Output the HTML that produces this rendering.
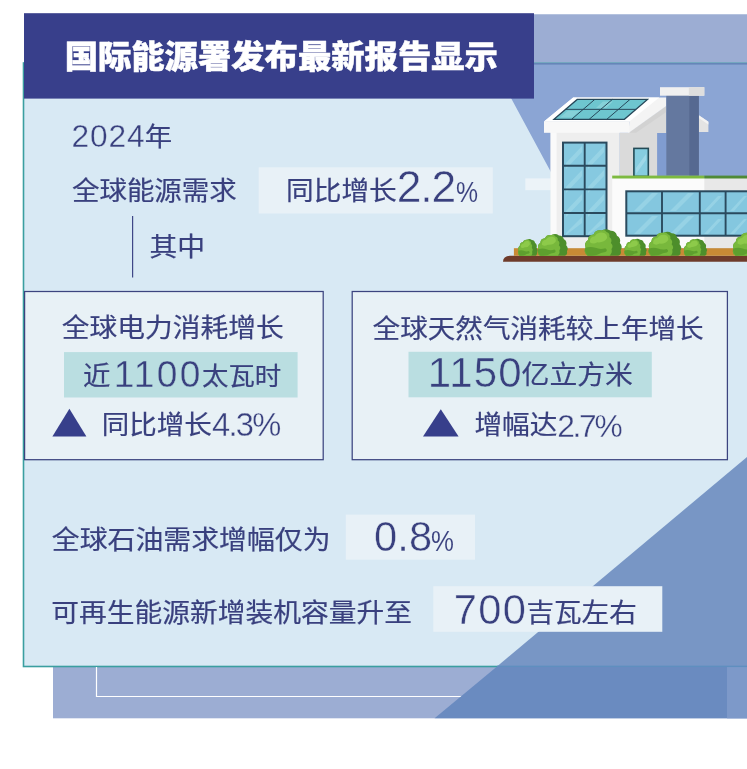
<!DOCTYPE html>
<html lang="zh-CN">
<head>
<meta charset="utf-8">
<title>国际能源署发布最新报告显示</title>
<style>
html,body{margin:0;padding:0;background:#fff;}
#root{position:relative;width:747px;height:769px;overflow:hidden;background:#fff;
  font-family:"Liberation Sans","Noto Sans CJK SC",sans-serif;color:#39407e;}
#bg{position:absolute;left:0;top:0;}
.t{position:absolute;white-space:nowrap;line-height:40px;height:40px;font-weight:400;margin:0;transform-origin:0 50%;}
#title{font-weight:900;color:#fff;-webkit-text-stroke:0.5px #fff;}
</style>
</head>
<body>
<div id="root">
<svg id="bg" width="747" height="769" viewBox="0 0 747 769">
  <rect x="53" y="14.5" width="694" height="703.8" fill="#9cadd3"/>
  <rect x="23.5" y="63" width="730" height="603.5" fill="#d8e9f4" stroke="#3a9fa0" stroke-width="1.6"/>
  <polygon points="480,63 747,63 747,252 594,252 511,98 480,98" fill="#8ba5d4"/>
  <rect x="480" y="14.5" width="267" height="48" fill="#9cadd3"/>
  <rect x="480" y="63" width="267" height="1.6" fill="#6586b8"/>
  <path d="M96.5 667 V696.5 H470" fill="none" stroke="#fff" stroke-width="1.2"/>
  <polygon points="434.6,718.3 497,666.5 747,666.5 747,718.3" fill="#6a8bc0"/>
  <rect x="727" y="667" width="20" height="51.3" fill="#7d99c9"/>
  <polygon points="497,666.5 747,457 747,666.5" fill="#7896c5"/>
  <rect x="497" y="665.7" width="250" height="1.4" fill="#5f8fbf"/>
  <rect x="24" y="13.2" width="510" height="85.4" fill="#383f8b"/>
  <rect x="132" y="216" width="1.2" height="61.5" fill="#3f4787"/>
  <rect x="258.7" y="167.3" width="234.1" height="46.2" fill="#e8f1f7"/>
  <rect x="24.6" y="291.5" width="298.6" height="168.2" fill="#e8f1f6" stroke="#3c447f" stroke-width="1.25"/>
  <rect x="64" y="352.1" width="233.6" height="45.4" fill="#badee1"/>
  <rect x="352.2" y="291.5" width="375.2" height="168.2" fill="#e8f1f6" stroke="#3c447f" stroke-width="1.25"/>
  <rect x="408.5" y="351.8" width="243.3" height="45.5" fill="#badee1"/>
  <rect x="345.8" y="514.6" width="129.2" height="45.1" fill="#e8f1f7"/>
  <rect x="433.3" y="586.2" width="229" height="45.6" fill="#e8f1f7"/>
  <polygon points="52.4,436.4 69.4,408.8 86.4,436.4" fill="#373f8b"/>
  <polygon points="423,436.4 440.8,409.2 458.6,436.4" fill="#373f8b"/>
  <g id="house">
    <!-- awning left -->
    <rect x="525.3" y="178.4" width="26" height="11.8" fill="#ecf3f8"/>
    <!-- far roof piece right of chimney -->
    <polygon points="698.8,115.2 708.4,121.8 708.4,132.1 698.8,132.1" fill="#e3e3e3"/>
    <polygon points="698.8,115.2 708.4,121.8 708.4,124.5 698.8,118" fill="#f3f3f3"/>
    <!-- blue gap -->
    <rect x="656.5" y="132.9" width="10" height="43" fill="#809cd0"/>
    <!-- gable wall -->
    <polygon points="619.5,132.8 628.5,132.8 666.3,106 666.3,132.9 657.1,132.9 657.1,176 619.5,176" fill="#dadada"/>
    <polygon points="628.5,132.8 666.3,106 666.3,112 636,132.8" fill="#d2d2d2"/>
    <!-- roof top surface -->
    <polygon points="544,121.4 573.2,97.5 666.3,97.5 666.3,106 628.5,132.9 629.4,121.4" fill="#f4f4f4"/>
    <polygon points="544,121.4 573.2,97.5 659.3,97.5 629.4,121.4" fill="#ffffff"/>
    <!-- solar panel -->
    <polygon points="554,119.3 577.2,99.4 647.5,99.4 624.4,119.3" fill="#6ec6cf" stroke="#27485a" stroke-width="1.3" stroke-linejoin="miter"/>
    <polygon points="560,117.6 568,110.8 580,110.8 572,117.6" fill="#9adbe0" opacity=".55"/>
    <polygon points="596,108 603,101.5 613,101.5 606,108" fill="#9adbe0" opacity=".55"/>
    <g stroke="#27485a" stroke-width="1" fill="none">
      <line x1="565.6" y1="109.35" x2="635.95" y2="109.35"/>
      <line x1="571.6" y1="119.3" x2="594.8" y2="99.4"/>
      <line x1="589.2" y1="119.3" x2="612.4" y2="99.4"/>
      <line x1="606.8" y1="119.3" x2="630" y2="99.4"/>
    </g>
    <!-- front wall -->
    <rect x="550.6" y="132" width="69" height="116.5" fill="#eeeeee"/>
    <rect x="550.6" y="132" width="6" height="116.5" fill="#fafafa"/>
    <!-- roof slab front -->
    <rect x="544" y="121.3" width="85.4" height="11.5" fill="#f8f8f8"/>
    <!-- tall window -->
    <rect x="563" y="142.6" width="43.5" height="93.6" fill="#86c9e0" stroke="#2a4a5e" stroke-width="2"/>
    <g fill="#a9deeb" opacity=".5">
      <polygon points="566,163 582,146 582,152 566,169"/>
      <polygon points="588,163 604,146 604,152 588,169"/>
      <polygon points="566,187 582,170 582,176 566,193"/>
      <polygon points="588,187 604,170 604,176 588,193"/>
      <polygon points="566,211 582,194 582,200 566,217"/>
      <polygon points="588,211 604,194 604,200 588,217"/>
      <polygon points="566,233 582,217 582,223 566,235"/>
      <polygon points="588,233 604,217 604,223 588,235"/>
    </g>
    <g stroke="#2a4a5e" stroke-width="1.9">
      <line x1="584.7" y1="142" x2="584.7" y2="237"/>
      <line x1="562.5" y1="165.8" x2="607" y2="165.8"/>
      <line x1="562.5" y1="189.4" x2="607" y2="189.4"/>
      <line x1="562.5" y1="213" x2="607" y2="213"/>
    </g>
    <!-- small window -->
    <rect x="633.9" y="148.4" width="14.4" height="28" fill="#86cde0" stroke="#234a56" stroke-width="1.6"/>
    <polygon points="636,168 646,154 646,160 636,174" fill="#b0e0ec" opacity=".6"/>
    <!-- chimney -->
    <rect x="666.3" y="95" width="32.5" height="80.6" fill="#64789f"/>
    <rect x="689.3" y="95" width="9.5" height="80.6" fill="#566991"/>
    <rect x="660" y="87.2" width="44.3" height="8.5" fill="#f0f0f0"/>
    <rect x="688.8" y="87.2" width="15.5" height="8.5" fill="#dedede"/>
    <!-- lower right block -->
    <rect x="612.2" y="178" width="135" height="70.5" fill="#fbfbfb"/>
    <rect x="704.3" y="178" width="43" height="70.5" fill="#e8e8e8"/>
    <!-- green strip -->
    <rect x="612.2" y="175.6" width="92.1" height="2.9" fill="#7dba40"/>
    <rect x="704.3" y="175.6" width="43" height="2.9" fill="#4e8a36"/>
    <!-- wide window -->
    <rect x="626.3" y="191.3" width="125" height="44.4" fill="#84c7df" stroke="#2a4a5e" stroke-width="2"/>
    <g fill="#a9deeb" opacity=".5">
      <polygon points="634,211 652,193 658,193 640,211"/>
      <polygon points="634,234 652,216 658,216 640,234"/>
      <polygon points="670,211 688,193 694,193 676,211"/>
      <polygon points="670,234 688,216 694,216 676,234"/>
      <polygon points="704,211 718,196 722,196 708,211"/>
      <polygon points="704,234 718,219 722,219 708,234"/>
      <polygon points="730,211 744,196 747,196 734,211"/>
      <polygon points="730,234 744,219 747,219 734,234"/>
    </g>
    <g stroke="#2a4a5e" stroke-width="1.9">
      <line x1="626" y1="213.3" x2="747" y2="213.3"/>
      <line x1="662" y1="191" x2="662" y2="236"/>
      <line x1="699.8" y1="191" x2="699.8" y2="236"/>
      <line x1="725.6" y1="191" x2="725.6" y2="236"/>
    </g>
    <!-- ground -->
    <path d="M503,261.8 Q503,256 510,255.7 H747 V261.8 Z" fill="#6e3b2a"/>
    <rect x="513.9" y="248.2" width="233.1" height="7.6" fill="#c88a35"/>
    <!-- bushes -->
    <g id="bushes">
      <g transform="translate(517.9,238.8) scale(0.65,0.77)">
<path d="M2.5,22 Q-1,19 1,15.5 Q-0.5,11 3,9 Q3,5 7.5,4.5 Q9,0.5 14,1.2 Q18,-1 21.5,1.5 Q25.5,1.5 26.5,5.5 Q30,7.5 28.8,11.5 Q31.5,14.5 29.5,17.5 Q30.5,21 27.5,22 Z" fill="#4d8e2b"/>
<path d="M2.5,22 Q-1,19 1,15.5 Q-0.5,11 3,9 Q3,5 7.5,4.5 Q9,0.5 14,1.2 Q16.5,0 18,2.5 Q21,3.5 20.3,6.5 Q23,8.5 21.5,11.5 Q24,14 22,16.5 Q23,19.5 20.5,22 Z" fill="#78b83c"/>
<path d="M4.5,11 Q4,6.5 8.5,6 Q10.5,2.5 15,3 Q18.5,3.5 18.5,7.5 Q16,11.5 10.5,11 Q7,13 4.5,11Z" fill="#8dca4a"/>
<path d="M0.8,15.5 Q5,14.2 9,15.5 Q13,17.2 17,15.8 Q19.5,17.5 17,19 Q13,19.5 11,21 Q9,22 3,22 Q-0.5,19 0.8,15.5Z" fill="#5e9f2e"/>
</g>
      <g transform="translate(537.4,233.9) scale(1.0,0.99)">
<path d="M2.5,22 Q-1,19 1,15.5 Q-0.5,11 3,9 Q3,5 7.5,4.5 Q9,0.5 14,1.2 Q18,-1 21.5,1.5 Q25.5,1.5 26.5,5.5 Q30,7.5 28.8,11.5 Q31.5,14.5 29.5,17.5 Q30.5,21 27.5,22 Z" fill="#4d8e2b"/>
<path d="M2.5,22 Q-1,19 1,15.5 Q-0.5,11 3,9 Q3,5 7.5,4.5 Q9,0.5 14,1.2 Q16.5,0 18,2.5 Q21,3.5 20.3,6.5 Q23,8.5 21.5,11.5 Q24,14 22,16.5 Q23,19.5 20.5,22 Z" fill="#78b83c"/>
<path d="M4.5,11 Q4,6.5 8.5,6 Q10.5,2.5 15,3 Q18.5,3.5 18.5,7.5 Q16,11.5 10.5,11 Q7,13 4.5,11Z" fill="#8dca4a"/>
<path d="M0.8,15.5 Q5,14.2 9,15.5 Q13,17.2 17,15.8 Q19.5,17.5 17,19 Q13,19.5 11,21 Q9,22 3,22 Q-0.5,19 0.8,15.5Z" fill="#5e9f2e"/>
</g>
      <g transform="translate(584.4,229) scale(1.23,1.215)">
<path d="M2.5,22 Q-1,19 1,15.5 Q-0.5,11 3,9 Q3,5 7.5,4.5 Q9,0.5 14,1.2 Q18,-1 21.5,1.5 Q25.5,1.5 26.5,5.5 Q30,7.5 28.8,11.5 Q31.5,14.5 29.5,17.5 Q30.5,21 27.5,22 Z" fill="#4d8e2b"/>
<path d="M2.5,22 Q-1,19 1,15.5 Q-0.5,11 3,9 Q3,5 7.5,4.5 Q9,0.5 14,1.2 Q16.5,0 18,2.5 Q21,3.5 20.3,6.5 Q23,8.5 21.5,11.5 Q24,14 22,16.5 Q23,19.5 20.5,22 Z" fill="#78b83c"/>
<path d="M4.5,11 Q4,6.5 8.5,6 Q10.5,2.5 15,3 Q18.5,3.5 18.5,7.5 Q16,11.5 10.5,11 Q7,13 4.5,11Z" fill="#8dca4a"/>
<path d="M0.8,15.5 Q5,14.2 9,15.5 Q13,17.2 17,15.8 Q19.5,17.5 17,19 Q13,19.5 11,21 Q9,22 3,22 Q-0.5,19 0.8,15.5Z" fill="#5e9f2e"/>
</g>
      <g transform="translate(624.2,238.5) scale(0.74,0.78)">
<path d="M2.5,22 Q-1,19 1,15.5 Q-0.5,11 3,9 Q3,5 7.5,4.5 Q9,0.5 14,1.2 Q18,-1 21.5,1.5 Q25.5,1.5 26.5,5.5 Q30,7.5 28.8,11.5 Q31.5,14.5 29.5,17.5 Q30.5,21 27.5,22 Z" fill="#4d8e2b"/>
<path d="M2.5,22 Q-1,19 1,15.5 Q-0.5,11 3,9 Q3,5 7.5,4.5 Q9,0.5 14,1.2 Q16.5,0 18,2.5 Q21,3.5 20.3,6.5 Q23,8.5 21.5,11.5 Q24,14 22,16.5 Q23,19.5 20.5,22 Z" fill="#78b83c"/>
<path d="M4.5,11 Q4,6.5 8.5,6 Q10.5,2.5 15,3 Q18.5,3.5 18.5,7.5 Q16,11.5 10.5,11 Q7,13 4.5,11Z" fill="#8dca4a"/>
<path d="M0.8,15.5 Q5,14.2 9,15.5 Q13,17.2 17,15.8 Q19.5,17.5 17,19 Q13,19.5 11,21 Q9,22 3,22 Q-0.5,19 0.8,15.5Z" fill="#5e9f2e"/>
</g>
      <g transform="translate(648.2,231.5) scale(1.09,1.1)">
<path d="M2.5,22 Q-1,19 1,15.5 Q-0.5,11 3,9 Q3,5 7.5,4.5 Q9,0.5 14,1.2 Q18,-1 21.5,1.5 Q25.5,1.5 26.5,5.5 Q30,7.5 28.8,11.5 Q31.5,14.5 29.5,17.5 Q30.5,21 27.5,22 Z" fill="#4d8e2b"/>
<path d="M2.5,22 Q-1,19 1,15.5 Q-0.5,11 3,9 Q3,5 7.5,4.5 Q9,0.5 14,1.2 Q16.5,0 18,2.5 Q21,3.5 20.3,6.5 Q23,8.5 21.5,11.5 Q24,14 22,16.5 Q23,19.5 20.5,22 Z" fill="#78b83c"/>
<path d="M4.5,11 Q4,6.5 8.5,6 Q10.5,2.5 15,3 Q18.5,3.5 18.5,7.5 Q16,11.5 10.5,11 Q7,13 4.5,11Z" fill="#8dca4a"/>
<path d="M0.8,15.5 Q5,14.2 9,15.5 Q13,17.2 17,15.8 Q19.5,17.5 17,19 Q13,19.5 11,21 Q9,22 3,22 Q-0.5,19 0.8,15.5Z" fill="#5e9f2e"/>
</g>
      <g transform="translate(683.7,238.5) scale(0.77,0.78)">
<path d="M2.5,22 Q-1,19 1,15.5 Q-0.5,11 3,9 Q3,5 7.5,4.5 Q9,0.5 14,1.2 Q18,-1 21.5,1.5 Q25.5,1.5 26.5,5.5 Q30,7.5 28.8,11.5 Q31.5,14.5 29.5,17.5 Q30.5,21 27.5,22 Z" fill="#4d8e2b"/>
<path d="M2.5,22 Q-1,19 1,15.5 Q-0.5,11 3,9 Q3,5 7.5,4.5 Q9,0.5 14,1.2 Q16.5,0 18,2.5 Q21,3.5 20.3,6.5 Q23,8.5 21.5,11.5 Q24,14 22,16.5 Q23,19.5 20.5,22 Z" fill="#78b83c"/>
<path d="M4.5,11 Q4,6.5 8.5,6 Q10.5,2.5 15,3 Q18.5,3.5 18.5,7.5 Q16,11.5 10.5,11 Q7,13 4.5,11Z" fill="#8dca4a"/>
<path d="M0.8,15.5 Q5,14.2 9,15.5 Q13,17.2 17,15.8 Q19.5,17.5 17,19 Q13,19.5 11,21 Q9,22 3,22 Q-0.5,19 0.8,15.5Z" fill="#5e9f2e"/>
</g>
      <g transform="translate(732.5,231.5) scale(1.12,1.1)">
<path d="M2.5,22 Q-1,19 1,15.5 Q-0.5,11 3,9 Q3,5 7.5,4.5 Q9,0.5 14,1.2 Q18,-1 21.5,1.5 Q25.5,1.5 26.5,5.5 Q30,7.5 28.8,11.5 Q31.5,14.5 29.5,17.5 Q30.5,21 27.5,22 Z" fill="#4d8e2b"/>
<path d="M2.5,22 Q-1,19 1,15.5 Q-0.5,11 3,9 Q3,5 7.5,4.5 Q9,0.5 14,1.2 Q16.5,0 18,2.5 Q21,3.5 20.3,6.5 Q23,8.5 21.5,11.5 Q24,14 22,16.5 Q23,19.5 20.5,22 Z" fill="#78b83c"/>
<path d="M4.5,11 Q4,6.5 8.5,6 Q10.5,2.5 15,3 Q18.5,3.5 18.5,7.5 Q16,11.5 10.5,11 Q7,13 4.5,11Z" fill="#8dca4a"/>
<path d="M0.8,15.5 Q5,14.2 9,15.5 Q13,17.2 17,15.8 Q19.5,17.5 17,19 Q13,19.5 11,21 Q9,22 3,22 Q-0.5,19 0.8,15.5Z" fill="#5e9f2e"/>
</g>
    </g>
  </g>

</svg>
<div class="t" id="title" style="left:64.65px;top:36.53px;font-size:33.35px;transform:scale(1.000,0.955);">国际能源署发布最新报告显示</div>
<div class="t" id="y2024" style="left:71.53px;top:116.14px;font-size:31.67px;letter-spacing:0.90px;-webkit-text-stroke:0.35px #d8e9f4;">2024</div>
<div class="t" id="ynian" style="left:144.86px;top:116.72px;font-size:27.40px;transform:scale(1.000,0.950);-webkit-text-stroke:0.22px #39407e;">年</div>
<div class="t" id="l2" style="left:71.91px;top:170.78px;font-size:27.49px;transform:scale(1.000,0.950);-webkit-text-stroke:0.22px #39407e;">全球能源需求</div>
<div class="t" id="l3c" style="left:286.01px;top:170.57px;font-size:27.69px;transform:scale(1.000,0.950);-webkit-text-stroke:0.22px #39407e;">同比增长</div>
<div class="t" id="l3n" style="left:396.72px;top:167.24px;font-size:44.43px;letter-spacing:-1.15px;-webkit-text-stroke:0.49px #e8f1f7;">2.2</div>
<div class="t" id="l3p" style="left:455.91px;top:172.35px;font-size:30.04px;transform:scale(0.826,1.000);-webkit-text-stroke:0.12px #e8f1f7;">%</div>
<div class="t" id="l4" style="left:149.47px;top:227.29px;font-size:27.77px;transform:scale(1.000,0.950);-webkit-text-stroke:0.22px #39407e;">其中</div>
<div class="t" id="b1a" style="left:61.85px;top:307.63px;font-size:27.72px;transform:scale(1.000,0.950);-webkit-text-stroke:0.22px #39407e;">全球电力消耗增长</div>
<div class="t" id="b1b1" style="left:82.93px;top:355.59px;font-size:27.40px;transform:scale(1.000,0.950);-webkit-text-stroke:0.22px #39407e;">近</div>
<div class="t" id="b1b2" style="left:113.66px;top:353.57px;font-size:37.12px;letter-spacing:2.32px;-webkit-text-stroke:0.41px #badee1;">1100</div>
<div class="t" id="b1b3" style="left:202.03px;top:355.81px;font-size:26.42px;transform:scale(1.000,0.950);-webkit-text-stroke:0.22px #39407e;">太瓦时</div>
<div class="t" id="b1c1" style="left:101.75px;top:404.92px;font-size:27.52px;transform:scale(1.000,0.950);-webkit-text-stroke:0.22px #39407e;">同比增长</div>
<div class="t" id="b1c2" style="left:212.10px;top:405.28px;font-size:32.67px;letter-spacing:-1.74px;-webkit-text-stroke:0.36px #e8f1f6;">4.3%</div>
<div class="t" id="b2a" style="left:372.56px;top:308.66px;font-size:27.60px;transform:scale(1.000,0.950);-webkit-text-stroke:0.22px #39407e;">全球天然气消耗较上年增长</div>
<div class="t" id="b2b1" style="left:427.85px;top:352.86px;font-size:42.02px;letter-spacing:1.13px;-webkit-text-stroke:0.46px #badee1;">1150</div>
<div class="t" id="b2b2" style="left:521.58px;top:355.20px;font-size:27.82px;transform:scale(1.000,0.950);-webkit-text-stroke:0.22px #39407e;">亿立方米</div>
<div class="t" id="b2c1" style="left:474.43px;top:404.53px;font-size:27.71px;transform:scale(1.000,0.950);-webkit-text-stroke:0.22px #39407e;">增幅达</div>
<div class="t" id="b2c2" style="left:557.18px;top:405.70px;font-size:31.73px;letter-spacing:-2.26px;-webkit-text-stroke:0.35px #e8f1f6;">2.7%</div>
<div class="t" id="c1" style="left:51.84px;top:520.19px;font-size:27.88px;transform:scale(1.000,0.950);-webkit-text-stroke:0.22px #39407e;">全球石油需求增幅仅为</div>
<div class="t" id="c1n" style="left:374.12px;top:516.52px;font-size:41.63px;letter-spacing:0.05px;-webkit-text-stroke:0.46px #e8f1f7;">0.8</div>
<div class="t" id="c1p" style="left:431.14px;top:520.54px;font-size:29.42px;transform:scale(0.878,1.000);-webkit-text-stroke:0.12px #e8f1f7;">%</div>
<div class="t" id="c2" style="left:51.19px;top:592.80px;font-size:27.75px;transform:scale(1.000,0.950);-webkit-text-stroke:0.22px #39407e;">可再生能源新增装机容量升至</div>
<div class="t" id="c2n" style="left:453.87px;top:589.84px;font-size:41.67px;letter-spacing:1.23px;-webkit-text-stroke:0.46px #e8f1f7;">700</div>
<div class="t" id="c2c" style="left:526.46px;top:592.63px;font-size:27.57px;transform:scale(1.000,0.950);-webkit-text-stroke:0.22px #39407e;">吉瓦左右</div>
</div>
</body>
</html>
